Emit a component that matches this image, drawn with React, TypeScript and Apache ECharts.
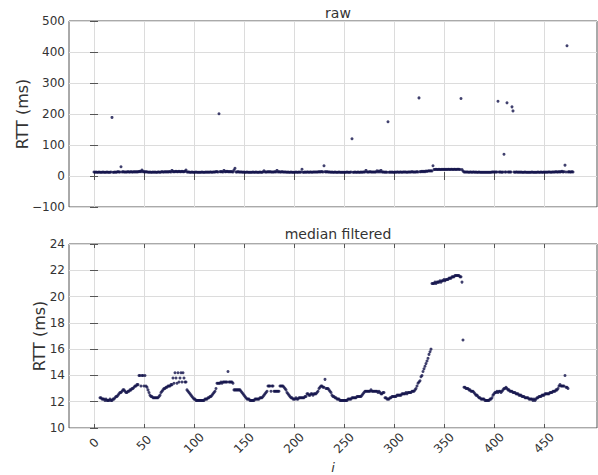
import React, { useEffect, useRef } from "react";
import * as echarts from "echarts";

// raw RTT samples, index 0..479 (ms)
const rawValues = [
  13,12,13,12,12,13,12,12,12,13,12,12,12,13,12,12,12,13,189,12,
  12,13,12,13,14,13,13,30,13,14,13,13,13,13,14,13,13,14,13,13,
  14,13,14,13,14,14,15,14,19,14,14,13,14,13,13,12,13,12,12,13,
  12,13,12,12,13,13,12,13,14,13,13,14,13,14,13,14,14,13,18,14,
  14,14,15,14,14,15,14,14,15,14,14,15,19,13,13,13,12,12,13,12,
  12,12,13,12,12,12,12,12,13,12,12,12,13,12,13,12,13,13,12,13,
  13,13,14,14,13,201,14,14,14,13,18,14,14,15,14,14,14,14,14,13,
  19,25,13,13,14,13,13,13,13,12,13,12,12,13,12,12,12,12,12,13,
  12,12,13,12,12,12,13,12,12,13,17,13,13,13,14,13,14,13,13,13,
  13,14,13,18,13,14,13,13,14,13,13,13,13,12,13,12,12,13,12,12,
  12,12,13,12,12,13,12,13,22,12,12,13,12,13,13,12,13,13,12,13,
  13,13,13,13,13,14,13,14,14,13,33,14,13,14,13,13,13,12,13,12,
  12,13,12,12,12,13,12,12,12,12,12,12,12,13,12,12,12,13,120,12,
  12,13,12,12,13,12,12,13,12,13,13,13,18,13,13,13,14,13,13,13,
  13,13,13,17,13,16,13,18,13,13,13,12,13,12,175,12,13,12,13,12,
  12,13,12,13,13,12,13,13,12,13,13,13,13,12,13,13,13,13,14,13,
  13,13,13,14,13,252,14,14,15,14,15,14,16,15,16,17,16,17,16,33,
  21,21,22,21,21,22,21,21,22,21,22,21,22,21,22,22,21,22,22,21,
  22,22,21,22,22,22,21,250,21,16,13,13,13,13,13,12,13,13,12,13,
  13,12,13,12,12,13,12,12,12,12,12,12,12,12,12,12,12,12,13,13,
  13,13,13,13,241,13,13,13,12,13,70,13,13,236,13,13,13,13,223,210,
  13,12,13,13,12,13,12,13,12,12,12,13,12,12,12,12,12,12,13,12,
  12,12,12,12,13,12,12,13,12,12,13,12,13,12,13,13,13,12,13,13,
  13,13,14,13,13,14,13,14,15,13,14,35,13,420,13,14,13,13,14,13,
];

// median filtered RTT, index 6..474 (ms)
const medStart = 6;
const medValues = [
  12.3,12.3,12.2,12.2,
  12.2,12.1,12.2,12.1,12.1,12.1,12.2,12.1,12.1,12.2,
  12.2,12.3,12.4,12.4,12.5,12.6,12.7,12.7,12.8,12.9,
  12.9,12.8,12.7,12.7,12.8,12.8,12.9,12.9,13.0,13.0,
  13.1,13.2,13.2,13.3,13.3,14.0,14.0,13.2,14.0,14.0,
  13.2,14.0,13.2,13.1,12.9,12.7,12.5,12.4,12.4,12.3,
  12.3,12.3,12.3,12.3,12.3,12.4,12.5,12.7,12.8,12.9,
  13.0,13.0,13.1,13.1,13.2,13.2,13.2,13.3,13.3,13.8,
  13.4,14.2,13.8,13.4,14.2,13.5,13.8,14.2,13.5,14.2,
  13.8,13.5,13.5,12.9,12.8,12.7,12.6,12.5,12.4,12.3,
  12.2,12.2,12.1,12.1,12.1,12.1,12.1,12.1,12.1,12.1,
  12.1,12.2,12.2,12.2,12.3,12.3,12.4,12.4,12.5,12.6,
  12.7,12.8,13.0,13.4,13.4,13.4,13.4,13.5,13.4,13.5,
  13.5,13.5,13.5,13.5,14.3,13.5,13.5,13.5,13.5,13.4,
  12.9,12.9,12.9,12.9,12.9,12.9,12.9,12.8,12.7,12.6,
  12.5,12.4,12.3,12.2,12.2,12.2,12.1,12.1,12.1,12.1,
  12.1,12.2,12.2,12.2,12.2,12.2,12.3,12.3,12.3,12.4,
  12.5,12.6,12.7,12.8,13.2,13.2,13.2,12.8,13.2,13.2,
  12.8,12.8,12.8,12.8,12.8,12.8,13.2,13.2,13.2,13.2,
  13.1,13.0,12.9,12.7,12.6,12.5,12.4,12.3,12.3,12.2,
  12.2,12.2,12.3,12.2,12.2,12.3,12.3,12.3,12.3,12.3,
  12.3,12.4,12.4,12.6,12.6,12.5,12.5,12.6,12.6,12.5,
  12.6,12.6,12.6,12.7,12.8,13.0,13.1,13.2,13.2,13.1,
  13.1,13.7,13.0,13.0,13.0,12.9,12.8,12.7,12.5,12.4,
  12.4,12.3,12.3,12.2,12.2,12.2,12.1,12.1,12.1,12.1,
  12.1,12.1,12.1,12.1,12.2,12.2,12.2,12.2,12.3,12.3,
  12.3,12.3,12.3,12.4,12.4,12.4,12.4,12.4,12.5,12.6,
  12.7,12.8,12.8,12.8,12.8,12.8,12.8,12.9,12.8,12.8,
  12.8,12.8,12.8,12.8,12.7,12.8,12.7,12.6,12.6,12.7,
  12.7,12.3,12.3,12.2,12.2,12.2,12.3,12.3,12.4,12.4,
  12.4,12.4,12.4,12.5,12.5,12.5,12.5,12.5,12.6,12.6,
  12.6,12.6,12.7,12.6,12.7,12.7,12.7,12.7,12.8,12.8,
  12.8,12.9,13.0,13.2,13.4,13.5,13.6,13.9,14.0,14.3,
  14.5,14.7,14.9,15.1,15.3,15.6,15.8,16.0,21.0,21.0,
  21.0,21.1,21.0,21.1,21.1,21.1,21.2,21.1,21.2,21.2,
  21.3,21.2,21.3,21.3,21.3,21.4,21.4,21.4,21.5,21.5,
  21.5,21.6,21.6,21.6,21.6,21.6,21.5,21.5,21.1,16.7,
  13.1,13.1,13.0,13.0,13.0,12.9,12.9,12.8,12.8,12.8,
  12.7,12.6,12.5,12.5,12.4,12.3,12.3,12.2,12.2,12.2,
  12.2,12.1,12.1,12.1,12.1,12.1,12.2,12.2,12.3,12.5,
  12.6,12.7,12.7,12.8,12.7,12.8,12.8,12.7,12.8,12.9,
  13.0,13.0,13.1,13.0,12.9,12.9,12.8,12.8,12.8,12.7,
  12.7,12.7,12.6,12.6,12.6,12.5,12.5,12.5,12.4,12.4,
  12.4,12.3,12.3,12.3,12.3,12.2,12.2,12.2,12.2,12.1,
  12.2,12.1,12.2,12.3,12.3,12.4,12.4,12.4,12.5,12.5,
  12.5,12.6,12.6,12.6,12.6,12.6,12.7,12.7,12.7,12.8,
  12.8,12.8,12.9,12.9,13.0,13.2,13.3,13.2,13.2,13.2,
  13.2,14.0,13.1,13.1,13.0,
];

const xTicks = [0, 50, 100, 150, 200, 250, 300, 350, 400, 450];
const rawTitle = "raw";
const medTitle = "median filtered";
const yName = "RTT (ms)";
const xName = "i";

const FONT = "DejaVu Sans";
const DOT = "#12124a";
const GRIDC = "#dcdcdc";
const FRAME = "#555555";
const TXT = "#333333";

export default function App() {
  const ref = useRef<HTMLDivElement>(null);
  useEffect(() => {
    if (!ref.current) return;
    const chart = echarts.init(ref.current, undefined, { renderer: "svg" });
    const rawData = rawValues.map((v, i) => [i, v]);
    const medData = medValues.map((v, k) => [medStart + k, v]);

    const xBase = (gridIndex: number, position: "bottom" | "top", labels: boolean, main: boolean) => ({
      type: "value",
      gridIndex,
      position,
      min: -25,
      max: 503,
      axisLine: { show: false },
      axisTick: { show: true, inside: true, length: 4, customValues: xTicks, lineStyle: { color: FRAME } },
      axisLabel: labels
        ? {
            show: true,
            customValues: xTicks,
            rotate: 45,
            align: "center",
            verticalAlign: "middle",
            margin: 15,
            fontFamily: FONT,
            fontSize: 12,
            color: TXT,
          }
        : { show: false },
      splitLine: { show: main, lineStyle: { color: GRIDC, width: 1 } },
    });

    const yBase = (
      gridIndex: number,
      position: "left" | "right",
      main: boolean,
      min: number,
      max: number,
      interval: number,
      name?: string,
      nameGap?: number
    ) => ({
      type: "value",
      gridIndex,
      position,
      min,
      max,
      interval,
      name: name,
      nameLocation: "middle",
      nameGap: nameGap ?? 30,
      nameMoveOverlap: false,
      nameTextStyle: { fontFamily: FONT, fontSize: 16, color: TXT },
      axisLine: { show: false },
      axisTick: { show: true, inside: true, length: 4, lineStyle: { color: FRAME } },
      axisLabel: main
        ? {
            show: true,
            fontFamily: FONT,
            fontSize: 12,
            color: TXT,
            margin: 4,
            formatter: (v: number) => String(v).replace("-", "\u2212"),
          }
        : { show: false },
      splitLine: { show: main, lineStyle: { color: GRIDC, width: 1 } },
    });

    chart.setOption({
      animation: false,
      backgroundColor: "#ffffff",
      title: [
        {
          text: rawTitle,
          left: 333,
          top: 1,
          textAlign: "center",
          textStyle: { fontFamily: FONT, fontSize: 14, fontWeight: "normal", color: TXT },
        },
        {
          text: medTitle,
          left: 333,
          top: 222,
          textAlign: "center",
          textStyle: { fontFamily: FONT, fontSize: 14, fontWeight: "normal", color: TXT },
        },
      ],
      grid: [
        { left: 69, top: 21, width: 528, height: 186, show: true, borderColor: FRAME, borderWidth: 1, backgroundColor: "transparent" },
        { left: 69, top: 244, width: 528, height: 186, show: true, borderColor: FRAME, borderWidth: 1, backgroundColor: "transparent" },
      ],
      xAxis: [
        xBase(0, "bottom", false, true),
        xBase(0, "top", false, false),
        {
          ...xBase(1, "bottom", true, true),
          name: xName,
          nameLocation: "middle",
          nameGap: 33,
          nameMoveOverlap: false,
          nameTextStyle: { fontFamily: FONT, fontSize: 13, fontStyle: "italic", color: TXT },
        },
        xBase(1, "top", false, false),
      ],
      yAxis: [
        yBase(0, "left", true, -100, 500, 100, yName, 39),
        yBase(0, "right", false, -100, 500, 100),
        yBase(1, "left", true, 10, 24, 2, yName, 22),
        yBase(1, "right", false, 10, 24, 2),
      ],
      series: [
        {
          type: "scatter",
          xAxisIndex: 0,
          yAxisIndex: 0,
          data: rawData,
          symbol: "circle",
          symbolSize: 3,
          itemStyle: { color: DOT },
          silent: true,
        },
        {
          type: "scatter",
          xAxisIndex: 2,
          yAxisIndex: 2,
          data: medData,
          symbol: "circle",
          symbolSize: 3,
          itemStyle: { color: DOT },
          silent: true,
        },
      ],
    });
    return () => chart.dispose();
  }, []);
  return <div ref={ref} style={{ width: 598, height: 475, position: "absolute", left: 0, top: 0 }} />;
}
